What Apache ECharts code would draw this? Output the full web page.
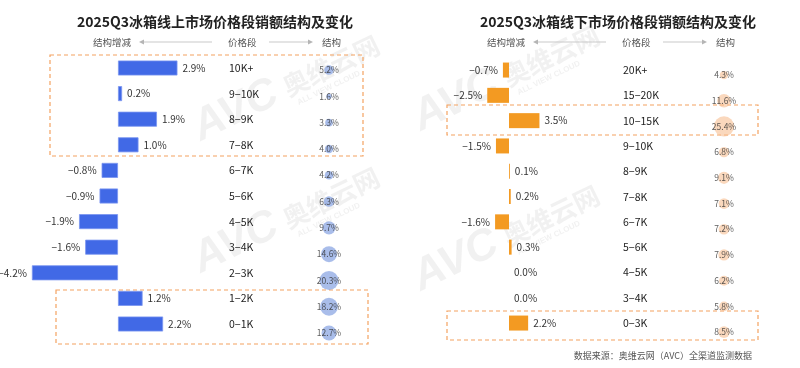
<!DOCTYPE html>
<html><head><meta charset="utf-8">
<script src="https://cdn.jsdelivr.net/npm/echarts@6/dist/echarts.min.js"></script>
<style>html,body{margin:0;padding:0;background:#fff}#c{width:800px;height:368px}</style>
</head><body><div id="c"></div>
<script>
// ---- data ----
const onlineTitle = '2025Q3冰箱线上市场价格段销额结构及变化';
const offlineTitle = '2025Q3冰箱线下市场价格段销额结构及变化';
const onlineCats = ['10K+','9-10K','8-9K','7-8K','6-7K','5-6K','4-5K','3-4K','2-3K','1-2K','0-1K'];
const onlineChange = [2.9,0.2,1.9,1.0,-0.8,-0.9,-1.9,-1.6,-4.2,1.2,2.2];
const onlineShare = [5.2,1.6,3.3,4.0,4.2,6.3,9.7,14.6,20.3,18.2,12.7];
const offlineCats = ['20K+','15-20K','10-15K','9-10K','8-9K','7-8K','6-7K','5-6K','4-5K','3-4K','0-3K'];
const offlineChange = [-0.7,-2.5,3.5,-1.5,0.1,0.2,-1.6,0.3,0.0,0.0,2.2];
const offlineShare = [4.3,11.6,25.4,6.8,9.1,7.1,7.2,7.9,6.2,5.8,8.5];
const headerLabels = ['结构增减','价格段','结构'];
const sourceText = '数据来源：奥维云网（AVC）全渠道监测数据';

const FONT = '"Noto Sans CJK SC", "Noto Sans", sans-serif';
const fmtPct = v => (v < 0 ? '−' + Math.abs(v).toFixed(1) : v.toFixed(1)) + '%';
const fmtCat = s => s.replace('-', '−');

function barData(vals){
  return vals.map(v => ({value: v, label: {position: v < 0 ? 'left' : 'right'}}));
}
function bubbleData(cats, shares){
  return cats.map((c, i) => ({value: ['s', c, shares[i]]}));
}

function header(cx){
  const y = 42;
  return [
    {type:'text', x:cx+93, y:y, style:{text:headerLabels[0], font:'9.5px '+FONT, fill:'#555', textVerticalAlign:'middle'}},
    {type:'line', shape:{x1:cx+142, y1:y, x2:cx+212, y2:y}, style:{stroke:'#c9c9c9', lineWidth:1}},
    {type:'polygon', shape:{points:[[cx+139,y],[cx+144,y-2.5],[cx+144,y+2.5]]}, style:{fill:'#b5b5b5'}},
    {type:'text', x:cx+228, y:y, style:{text:headerLabels[1], font:'9.5px '+FONT, fill:'#555', textVerticalAlign:'middle'}},
    {type:'line', shape:{x1:cx+269, y1:y, x2:cx+310, y2:y}, style:{stroke:'#c9c9c9', lineWidth:1}},
    {type:'polygon', shape:{points:[[cx+313,y],[cx+308,y-2.5],[cx+308,y+2.5]]}, style:{fill:'#b5b5b5'}},
    {type:'text', x:cx+322, y:y, style:{text:headerLabels[2], font:'9.5px '+FONT, fill:'#555', textVerticalAlign:'middle'}}
  ];
}
function watermark(x, y){
  const col = 'rgba(120,120,120,0.1)';
  return {type:'group', x:x, y:y, rotation:0.45, silent:true, z:-1, children:[
    {type:'text', x:0, y:0, style:{text:'AVC', font:'italic bold 44px Arial, sans-serif', fill:col, textVerticalAlign:'bottom'}},
    {type:'text', x:98, y:-8, style:{text:'奥维云网', font:'bold 26px '+FONT, fill:col, textVerticalAlign:'bottom'}},
    {type:'text', x:104, y:2, style:{text:'ALL VIEW CLOUD', font:'bold 8px Arial, sans-serif', fill:col, textVerticalAlign:'bottom'}}
  ]};
}
function dashRect(x, y, w, h){
  return {type:'rect', shape:{x:x, y:y, width:w, height:h}, style:{fill:'none', stroke:'#F4A261', lineWidth:1.2, lineDash:[4,3]}};
}

const barLabel = {show:true, formatter: p => fmtPct(p.value), fontSize:10, color:'#333', distance:5, fontFamily:FONT};
const bubbleLabel = {show:true, position:'inside', formatter: p => p.value[2].toFixed(1)+'%', fontSize:8.5, color:'#333', fontFamily:FONT};

const option = {
  animation:false,
  textStyle:{fontFamily:FONT},
  grid:[
    {left:15.5, width:205, top:55.2, height:281.6},
    {left:319, width:20, top:56.9, height:289.3},
    {left:465.5, width:87, top:57.4, height:278.3},
    {left:714, width:20, top:62.2, height:282.7}
  ],
  xAxis:[
    {type:'value', gridIndex:0, min:-5, max:5, show:false},
    {type:'category', gridIndex:1, data:['s'], show:false},
    {type:'value', gridIndex:2, min:-5, max:5, show:false},
    {type:'category', gridIndex:3, data:['s'], show:false}
  ],
  yAxis:[
    {type:'category', gridIndex:0, data:onlineCats, inverse:true, position:'right', offset:8.5,
      axisLine:{show:false}, axisTick:{show:false},
      axisLabel:{margin:0, align:'left', fontSize:10.5, color:'#222', formatter:fmtCat}},
    {type:'category', gridIndex:1, data:onlineCats, inverse:true, show:false},
    {type:'category', gridIndex:2, data:offlineCats, inverse:true, position:'right', offset:70.5,
      axisLine:{show:false}, axisTick:{show:false},
      axisLabel:{margin:0, align:'left', fontSize:10.5, color:'#222', formatter:fmtCat}},
    {type:'category', gridIndex:3, data:offlineCats, inverse:true, show:false}
  ],
  series:[
    {type:'bar', xAxisIndex:0, yAxisIndex:0, data:barData(onlineChange), barWidth:15,
      itemStyle:{color:'#4169E6', borderColor:'#7B95F0', borderWidth:0.8}, label:barLabel},
    {type:'scatter', xAxisIndex:1, yAxisIndex:1, data:bubbleData(onlineCats, onlineShare),
      symbolSize: v => 4.2*Math.sqrt(v[2]), itemStyle:{color:'rgba(120,152,222,0.8)'}, label:bubbleLabel},
    {type:'bar', xAxisIndex:2, yAxisIndex:2, data:barData(offlineChange), barWidth:15,
      itemStyle:{color:'#F39A22'}, label:barLabel},
    {type:'scatter', xAxisIndex:3, yAxisIndex:3, data:bubbleData(offlineCats, offlineShare),
      symbolSize: v => 4*Math.sqrt(v[2]), itemStyle:{color:'rgba(246,190,145,0.75)'}, label:bubbleLabel}
  ],
  graphic:[
    watermark(205, 150), watermark(205, 282),
    watermark(425, 140), watermark(425, 300),
    {type:'text', x:215, y:22, style:{text:onlineTitle, font:'bold 14px '+FONT, fill:'#222', textAlign:'center', textVerticalAlign:'middle'}},
    {type:'text', x:618, y:22, style:{text:offlineTitle, font:'bold 14px '+FONT, fill:'#222', textAlign:'center', textVerticalAlign:'middle'}},
    ...header(0), ...header(394),
    dashRect(50, 55, 313, 101), dashRect(56, 290, 312, 54),
    dashRect(447, 105, 311, 30), dashRect(447, 311, 311, 29),
    {type:'text', x:752, y:356, style:{text:sourceText, font:'9px '+FONT, fill:'#555', textAlign:'right', textVerticalAlign:'middle'}}
  ]
};
const chart = echarts.init(document.getElementById('c'), null, {renderer:'canvas'});
chart.setOption(option);
</script></body></html>
